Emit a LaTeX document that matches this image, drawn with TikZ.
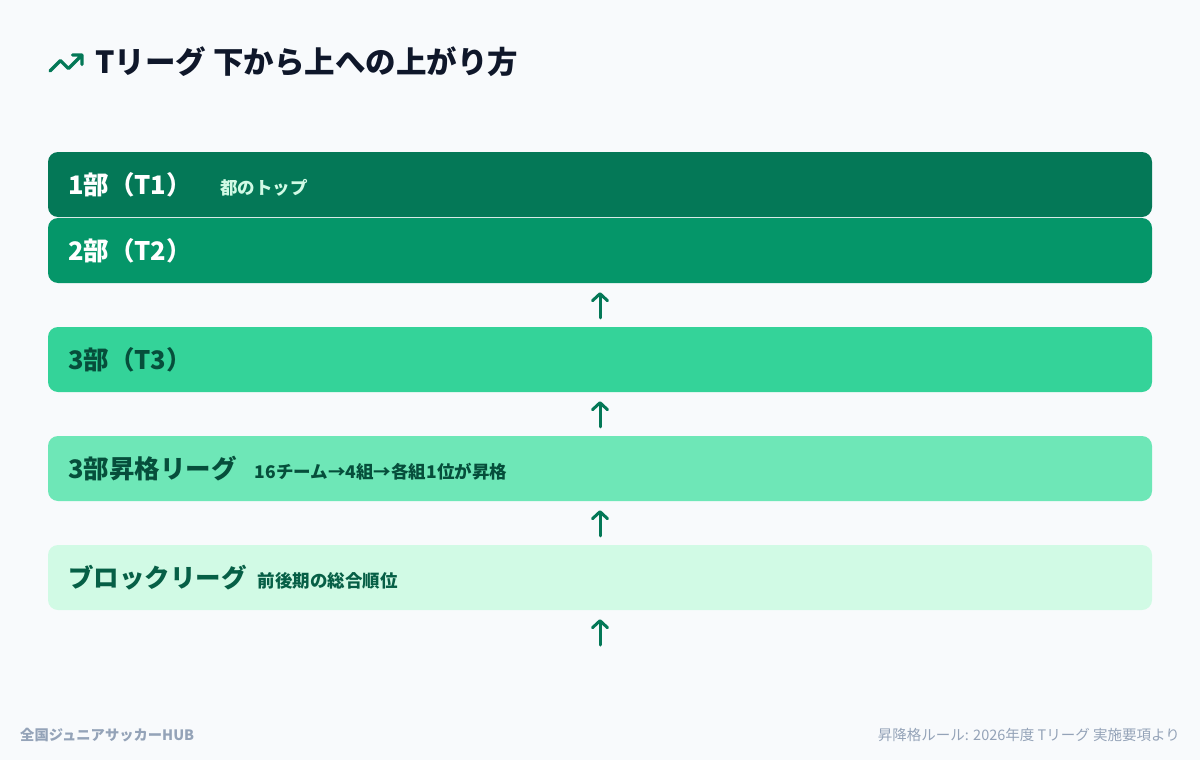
\documentclass[tikz,border=0pt]{standalone}
\usepackage{fontspec}
\setmainfont{Noto Sans CJK JP}
\newfontfamily\heavy{Noto Sans CJK JP Black}
\usetikzlibrary{positioning}
\usetikzlibrary{arrows.meta}
\definecolor{pagebg}{HTML}{F8FAFC}
\definecolor{ink}{HTML}{0F172A}
\definecolor{muted}{HTML}{94A3B8}
\definecolor{tone1}{HTML}{047857}
\definecolor{tone2}{HTML}{059669}
\definecolor{tone3}{HTML}{34D399}
\definecolor{tone4}{HTML}{6EE7B7}
\definecolor{tone5}{HTML}{D1FAE5}
\definecolor{deep}{HTML}{064E3B}
\definecolor{forest}{HTML}{065F46}
\tikzstyle{tier}=[minimum width=1104pt, minimum height=65pt, rounded corners=10pt, inner sep=0pt]
\tikzstyle{tier label}=[font=\heavy\fontsize{25.5}{25.5}\selectfont, inner sep=0pt, anchor=west]
\tikzstyle{tier note}=[font=\bfseries\fontsize{17.5}{17.5}\selectfont, inner sep=0pt]
\tikzstyle{promote}=[draw=tone1, line width=3pt, line cap=round,
  -{Straight Barb[length=7pt, width=15pt, line cap=round, line join=round]},
  shorten <=9pt, shorten >=9pt]
\tikzstyle{credit}=[text=muted, inner sep=0pt]

\begin{document}
\begin{tikzpicture}[x=1pt, y=-1pt]
      \fill[pagebg] (0,0) rectangle (1200,760);
      \useasboundingbox (0,0) rectangle (1200,760);
      % heading
      \draw[tone1, line width=3.2pt, line cap=round, line join=round, shift={(46.8,43.8)}, scale=1.6]
        (22,7) -- (13.5,15.5) -- (8.5,10.5) -- (2,17)
        (16,7) -- (22,7) -- (22,13);
      \node[font=\heavy\fontsize{30.5}{30.5}\selectfont, text=ink, inner sep=0pt, anchor=west] (heading) at (95,62) {Tリーグ 下から上への上がり方};
      % tiers
      \node[tier, fill=tone2] (t2) at (600,250.5) {};
      \node[tier, fill=tone1] (t1) at (600,184.5) {};
      \node[tier, fill=tone3] (t3) at (600,359.5) {};
      \node[tier, fill=tone4] (t4) at (600,468.5) {};
      \node[tier, fill=tone5] (t5) at (600,577.5) {};
      \node[tier label, text=white] (t1 label) at ([xshift=20pt]t1.west) {1部（T1）};
      \node[tier note, text=tone5, base right=28pt of t1 label] (t1 note) {都のトップ};
      \node[tier label, text=white] (t2 label) at ([xshift=20pt]t2.west) {2部（T2）};
      \node[tier label, text=deep] (t3 label) at ([xshift=20pt]t3.west) {3部（T3）};
      \node[tier label, text=deep] (t4 label) at ([xshift=20pt]t4.west) {3部昇格リーグ};
      \node[tier note, text=deep, base right=18pt of t4 label] (t4 note) {16チーム→4組→各組1位が昇格};
      \node[tier label, text=forest] (t5 label) at ([xshift=20pt]t5.west) {ブロックリーグ};
      \node[tier note, text=forest, base right=11pt of t5 label] (t5 note) {前後期の総合順位};
      % promotion arrows
      \coordinate (entry) at (600,654);
      \draw[promote] (t3) -- (t2);
      \draw[promote] (t4) -- (t3);
      \draw[promote] (t5) -- (t4);
      \draw[promote] (entry) -- (t5);
      % footer
      \node[credit, font=\bfseries\fontsize{14.3}{14.3}\selectfont, anchor=west] (brand) at (20,735) {全国ジュニアサッカーHUB};
      \node[credit, font=\fontsize{14.5}{14.5}\selectfont, anchor=east] (source) at (1180,735) {昇降格ルール: 2026年度 Tリーグ 実施要項より};
    \end{tikzpicture}
\end{document}
